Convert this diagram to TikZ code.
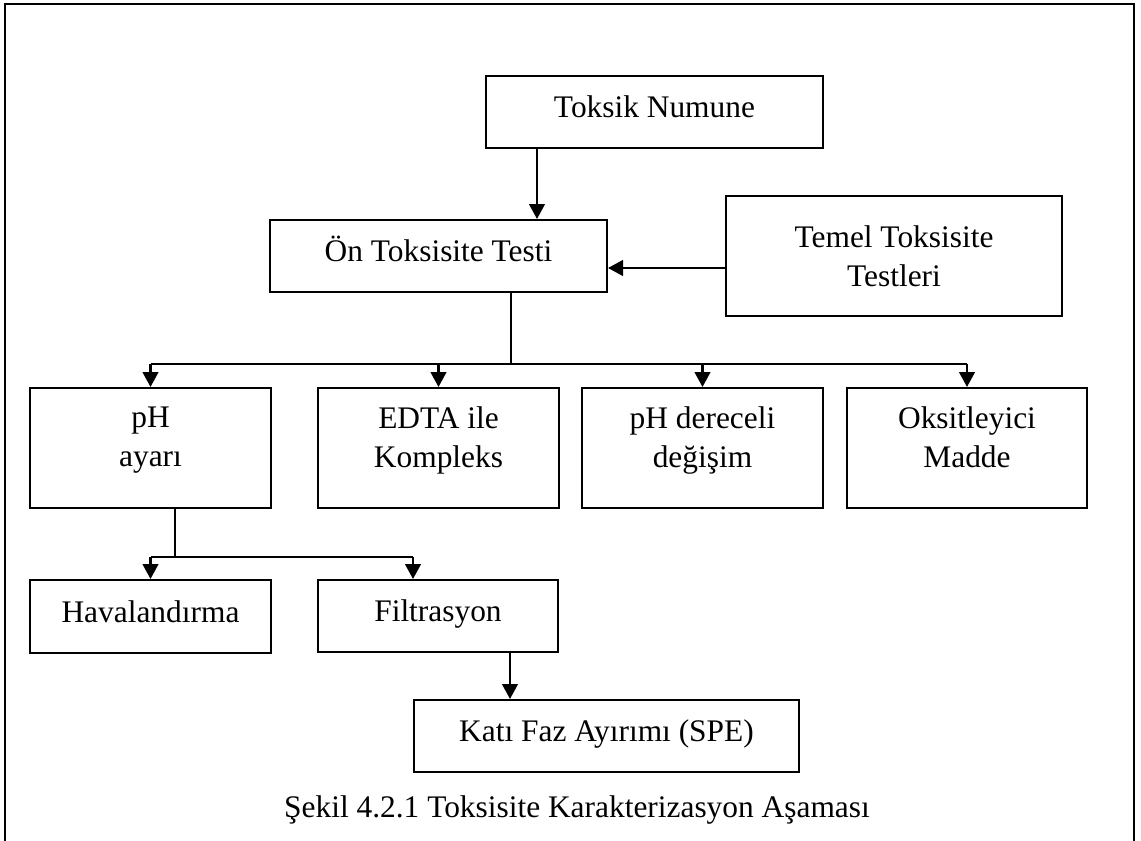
\documentclass[tikz,border=0pt]{standalone}
\usepackage{fontspec}
\setmainfont{Liberation Serif}
\usetikzlibrary{arrows.meta}
\begin{document}
\begin{tikzpicture}[x=0.5pt,y=-0.5pt,
  every node/.style={font=\fontsize{15.7}{19.5}\selectfont, inner sep=0pt},
  box/.style={draw, line width=1pt, align=center},
  oneline/.style={text height=10.5pt, text depth=5pt},
  toptext/.style={text depth=11pt},
  link/.style={line width=1.25pt},
  arr/.style={line width=1.25pt, -{Triangle[length=7.5pt,width=7.8pt]}},
  frame/.style={line width=1.4pt}]
\useasboundingbox (0,0) rectangle (1141,841);

% open frame around the figure
\draw[frame] (5,841) -- (5,4) -- (1134,4) -- (1134,841);

% boxes
\node[box, oneline, minimum width=168.5pt, minimum height=36pt] (tox) at (654.5,112) {Toksik Numune};
\node[box, oneline, minimum width=168.5pt, minimum height=36pt] (on) at (438.5,256) {Ön Toksisite Testi};
\node[box, minimum width=168pt, minimum height=60pt] (temel) at (894,256) {Temel Toksisite\\Testleri};

\node[box, toptext, minimum width=120.5pt, minimum height=60pt] (ph) at (150.5,448) {pH\\ayarı};
\node[box, toptext, minimum width=120.5pt, minimum height=60pt] (edta) at (438.5,448) {EDTA ile\\Kompleks};
\node[box, toptext, minimum width=120.5pt, minimum height=60pt] (phd) at (702.5,448) {pH dereceli\\değişim};
\node[box, toptext, minimum width=120pt, minimum height=60pt] (oks) at (967,448) {Oksitleyici\\Madde};

\node[box, oneline, minimum width=120.5pt, minimum height=36.5pt] (hav) at (150.5,616.5) {Havalandırma};
\node[box, oneline, minimum width=120pt, minimum height=36pt] (fil) at (438,616) {Filtrasyon};
\node[box, oneline, minimum width=192.5pt, minimum height=36pt] (kati) at (606.5,736) {Katı Faz Ayırımı (SPE)};

\node[anchor=base] (cap) at (577,817) {Şekil 4.2.1 Toksisite Karakterizasyon Aşaması};

% routing points of the connectors
\coordinate (a1) at (537,0);
\coordinate (a2) at (0,268);
\coordinate (j1) at (511,364);
\coordinate (j2) at (175,557);
\coordinate (a3) at (413,557);
\coordinate (a4) at (510,0);

% connectors
\draw[arr] (tox.south -| a1) -- (on.north -| a1);
\draw[arr] (temel.west |- a2) -- (on.east |- a2);

\draw[link] (on.south -| j1) -- (j1);
\draw[link] (ph.north |- j1) -- (oks.north |- j1);
\draw[arr] (ph.north |- j1) -- (ph.north);
\draw[arr] (edta.north |- j1) -- (edta.north);
\draw[arr] (phd.north |- j1) -- (phd.north);
\draw[arr] (oks.north |- j1) -- (oks.north);

\draw[link] (ph.south -| j2) -- (j2);
\draw[link] (hav.north |- j2) -- (a3);
\draw[arr] (hav.north |- j2) -- (hav.north);
\draw[arr] (a3) -- (fil.north -| a3);

\draw[arr] (fil.south -| a4) -- (kati.north -| a4);
\end{tikzpicture}
\end{document}
